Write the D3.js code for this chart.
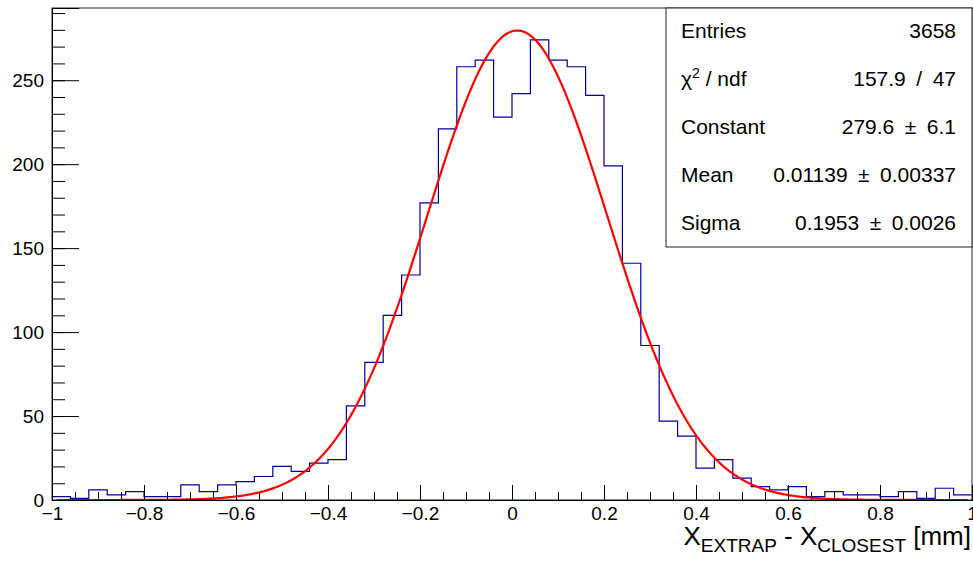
<!DOCTYPE html>
<html>
<head>
<meta charset="utf-8">
<script src="https://cdn.jsdelivr.net/npm/d3@7/dist/d3.min.js"></script>
<style>
  html, body { margin: 0; padding: 0; background: #fff; }
  svg { display: block; font-family: "Liberation Sans", Arial, Helvetica, sans-serif; }
</style>
</head>
<body>
<svg id="chart" width="973" height="566"></svg>
<script>
// Histogram of residuals: 50 bins over [-1, 1] mm
const xRange = [-1, 1];
const counts = [
  2, 1, 6, 3, 5, 2, 2, 9, 5, 9,
  11, 14, 20, 17, 22, 24, 56, 82, 110, 134,
  177, 221, 258, 262, 228, 242, 274, 262, 258, 241,
  199, 141, 92, 47, 38, 19, 24, 13, 8, 6,
  8, 2, 5, 3, 3, 2, 5, 1, 7, 3
];

// Gaussian fit result
const fitConstant = 279.6;
const fitMean = 0.01139;
const fitSigma = 0.1953;
const fitRange = [-0.99, 0.99];

// Axis ticks
const xMajorTicks = [-1, -0.8, -0.6, -0.4, -0.2, 0, 0.2, 0.4, 0.6, 0.8, 1];
const xTickLabels = ["\u22121", "\u22120.8", "\u22120.6", "\u22120.4", "\u22120.2", "0", "0.2", "0.4", "0.6", "0.8", "1"];
const yMajorTicks = [0, 50, 100, 150, 200, 250];
const yTickLabels = ["0", "50", "100", "150", "200", "250"];
const yMax = 293;

// Statistics box rows (en spaces around the value separators)
const statNames = ["Entries", "\u03c7\u00b2 / ndf", "Constant", "Mean", "Sigma"];
const statValues = ["3658", "157.9\u2002/\u200247", "279.6\u2002\u00b1\u20026.1", "0.01139\u2002\u00b1\u20020.00337", "0.1953\u2002\u00b1\u20020.0026"];

const svg = d3.select("#chart");
const frame = { left: 52, right: 972, top: 8, bottom: 500 };

const x = d3.scaleLinear().domain(xRange).range([frame.left, frame.right]);
const y = d3.scaleLinear().domain([0, yMax]).range([frame.bottom, frame.top]);

const nBins = counts.length;
const binW = (xRange[1] - xRange[0]) / nBins;

svg.append("clipPath").attr("id", "frameClip")
  .append("rect")
  .attr("x", frame.left).attr("y", frame.top)
  .attr("width", frame.right - frame.left).attr("height", frame.bottom - frame.top);

const plot = svg.append("g").attr("clip-path", "url(#frameClip)");

// Step outline of the histogram
let d = "";
counts.forEach((c, i) => {
  const x0 = x(xRange[0] + i * binW), x1 = x(xRange[0] + (i + 1) * binW);
  d += (i === 0 ? `M${x0},${y(c)}` : `V${y(c)}`) + `H${x1}`;
});
plot.append("path")
  .attr("d", d)
  .attr("fill", "none")
  .attr("stroke", "#000099")
  .attr("stroke-width", 1.2);

// Gaussian fit curve
const gaus = v => fitConstant * Math.exp(-0.5 * Math.pow((v - fitMean) / fitSigma, 2));
const fitPts = d3.range(0, 401).map(k => fitRange[0] + (fitRange[1] - fitRange[0]) * k / 400);
plot.append("path")
  .datum(fitPts)
  .attr("d", d3.line().x(v => x(v)).y(v => y(gaus(v))))
  .attr("fill", "none")
  .attr("stroke", "#ff0000")
  .attr("stroke-width", 2.2);

// Frame
svg.append("rect")
  .attr("x", frame.left).attr("y", frame.top)
  .attr("width", frame.right - frame.left).attr("height", frame.bottom - frame.top)
  .attr("fill", "none").attr("stroke", "#222").attr("stroke-width", 1);

// X axis: ticks point into the frame
const xMinor = d3.range(0, 41).map(k => xRange[0] + k * 0.05);
const xAxisMajor = d3.axisBottom(x).tickValues(xMajorTicks)
  .tickSize(-15).tickPadding(15)
  .tickFormat((v, i) => xTickLabels[i]);
const gx = svg.append("g").attr("transform", `translate(0,${frame.bottom})`).call(xAxisMajor);
gx.select(".domain").attr("stroke", "#000");
gx.selectAll(".tick line").attr("stroke", "#000");
gx.selectAll(".tick text").attr("font-size", 19).attr("fill", "#000")
  .attr("font-family", "Liberation Sans, Arial, sans-serif").attr("dy", "0.25em");
svg.append("g").attr("transform", `translate(0,${frame.bottom})`)
  .call(d3.axisBottom(x).tickValues(xMinor).tickSize(-8).tickFormat(""))
  .call(g => g.select(".domain").remove())
  .call(g => g.selectAll("line").attr("stroke", "#000"));

// Y axis
const yMinor = d3.range(0, 30).map(k => k * 10);
const yAxisMajor = d3.axisLeft(y).tickValues(yMajorTicks)
  .tickSize(-27).tickPadding(8)
  .tickFormat((v, i) => yTickLabels[i]);
const gy = svg.append("g").attr("transform", `translate(${frame.left},0)`).call(yAxisMajor);
gy.select(".domain").attr("stroke", "#000");
gy.selectAll(".tick line").attr("stroke", "#000");
gy.selectAll(".tick text").attr("font-size", 19).attr("fill", "#000")
  .attr("font-family", "Liberation Sans, Arial, sans-serif").attr("x", -8);
svg.append("g").attr("transform", `translate(${frame.left},0)`)
  .call(d3.axisLeft(y).tickValues(yMinor).tickSize(-13).tickFormat(""))
  .call(g => g.select(".domain").remove())
  .call(g => g.selectAll("line").attr("stroke", "#000"));

// Axis title with subscripts, right-aligned to the frame
const title = svg.append("text")
  .attr("x", 971).attr("y", 545)
  .attr("text-anchor", "end")
  .attr("font-size", 26).attr("fill", "#000");
title.append("tspan").text("X");
title.append("tspan").attr("font-size", 19).attr("dy", 7).text("EXTRAP");
title.append("tspan").attr("dy", -7).text(" - X");
title.append("tspan").attr("font-size", 19).attr("dy", 7).text("CLOSEST");
title.append("tspan").attr("dy", -7).text(" [mm]");

// Statistics box
const box = { left: 666, right: 972, top: 8, bottom: 247 };
svg.append("rect")
  .attr("x", box.left).attr("y", box.top)
  .attr("width", box.right - box.left).attr("height", box.bottom - box.top)
  .attr("fill", "#fff").attr("stroke", "#222").attr("stroke-width", 1);

const rowH = (box.bottom - box.top) / statNames.length;
const stats = svg.append("g").attr("font-size", 21).attr("fill", "#000");
statNames.forEach((name, i) => {
  const by = box.top + rowH * (i + 0.5) + 6.5;
  const t = stats.append("text").attr("x", 681).attr("y", by);
  if (name.startsWith("\u03c7")) {
    t.append("tspan").text("\u03c7");
    t.append("tspan").attr("font-size", 14).attr("dy", -8).text("2");
    t.append("tspan").attr("dy", 8).text(name.slice(2));
  } else {
    t.text(name);
  }
  stats.append("text").attr("x", 956).attr("y", by).attr("text-anchor", "end").text(statValues[i]);
});
</script>
</body>
</html>
